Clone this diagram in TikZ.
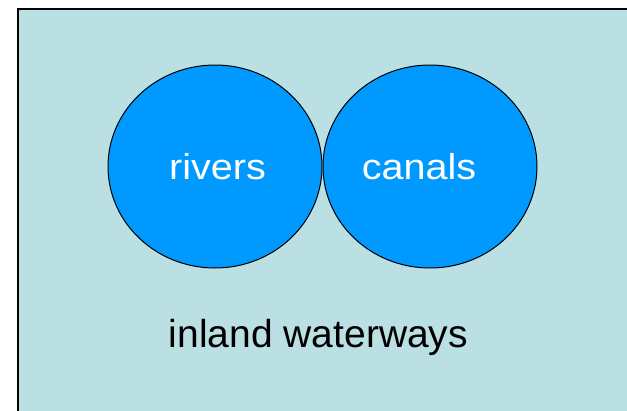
\documentclass[tikz,border=0pt]{standalone}
\usepackage{fontspec}
\setmainfont{Liberation Sans}
\usetikzlibrary{positioning, shapes.geometric}
\definecolor{landblue}{RGB}{187,224,227}
\definecolor{waterblue}{RGB}{0,153,255}
\tikzset{
    water/.style={ellipse, draw=black, line width=1pt, fill=waterblue,
      inner sep=0pt, minimum width=214pt, minimum height=203pt},
    watername/.style={text=white, inner sep=0pt, xscale=1.1, transform shape,
      font=\fontsize{36}{38}\selectfont},
    caption/.style={font=\fontsize{39}{42}\selectfont, text=black},
}

\begin{document}
\begin{tikzpicture}[x=1pt, y=-1pt]
    \useasboundingbox (0,0) rectangle (627,410);
    \clip (0,0) rectangle (627,410);
    \draw[line width=2.2pt, fill=landblue] (18,9) rectangle (660,440);

    \node[water] (rivers) at (215,166.5) {};
    \node[water, right=0pt of rivers] (canals) {};

    \node[watername, anchor=base] (riversname) at ([xshift=2.5pt, yshift=-12.8pt]rivers.center) {rivers};
    \node[watername, anchor=base] (canalsname) at ([xshift=-11pt, yshift=-12.8pt]canals.center) {canals};

    \node[caption, anchor=base] (inland) at (318.5,347) {inland waterways};
\end{tikzpicture}
\end{document}
